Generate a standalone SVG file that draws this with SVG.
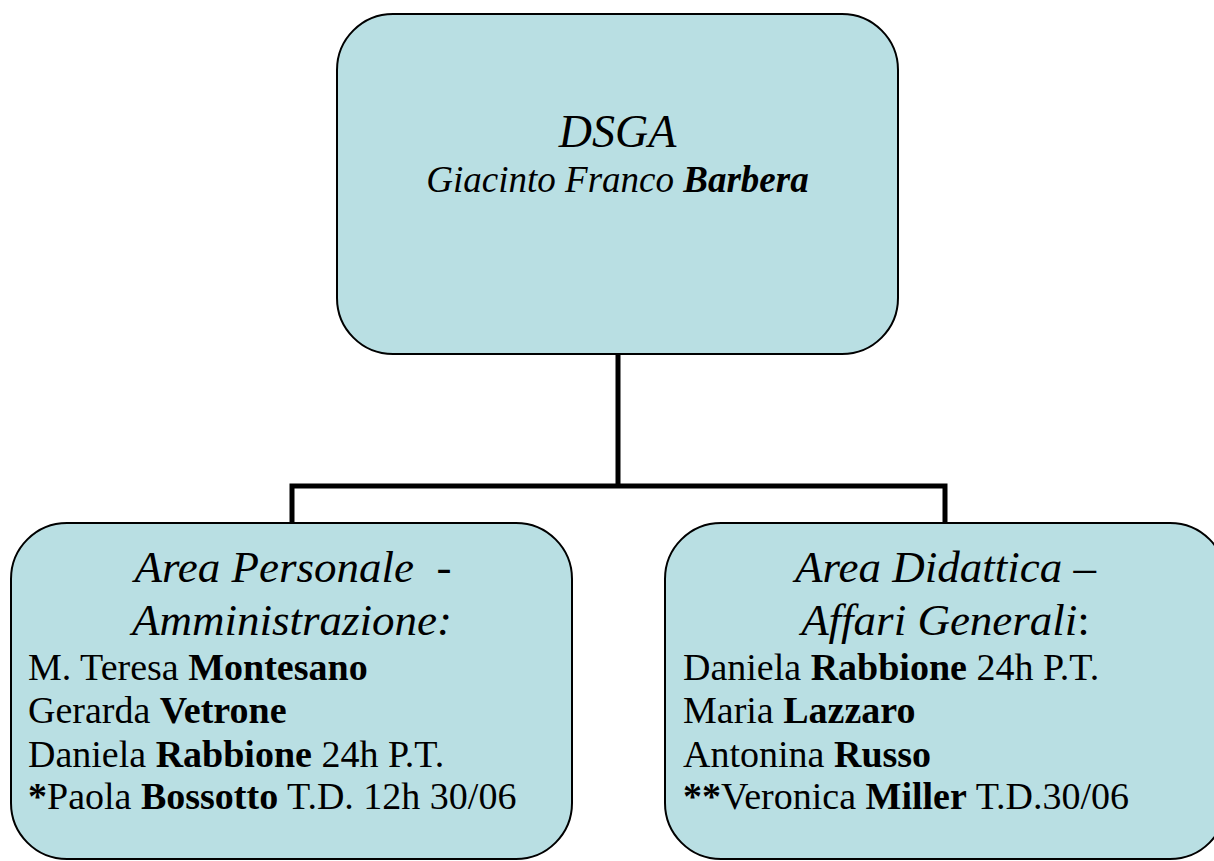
<svg xmlns="http://www.w3.org/2000/svg" width="1214" height="861" viewBox="0 0 1214 861">
<style>
.box{fill:#B9DFE3;stroke:#000;stroke-width:2}
.conn{fill:none;stroke:#000;stroke-width:5;stroke-linejoin:miter}
text{font-family:"Liberation Serif","Times New Roman",serif;fill:#000}
.it{font-style:italic}
.b{font-weight:bold}
.head{font-size:45px;font-style:italic;text-anchor:middle;white-space:pre}
.body{font-size:38px}
</style>
<rect width="1214" height="861" fill="#fff"/>
<g id="connectors">
<path class="conn" d="M618,354 V486"/>
<path class="conn" d="M292,523 V486 H945 V523"/>
</g>
<g id="dsga">
<rect class="box" x="337" y="14" width="561" height="340" rx="56" ry="56"/>
<text x="617.5" y="147" font-size="46" class="it" text-anchor="middle">DSGA</text>
<text x="617.5" y="192" font-size="37" class="it" text-anchor="middle">Giacinto Franco <tspan class="b">Barbera</tspan></text>
</g>
<g id="area-personale">
<rect class="box" x="11" y="523" width="561" height="336" rx="56" ry="56"/>
<text class="head" x="293" y="582">Area Personale  -</text>
<text class="head" x="292" y="635">Amministrazione:</text>
<text class="body" x="28" y="680">M. Teresa <tspan class="b">Montesano</tspan></text>
<text class="body" x="28" y="723">Gerarda <tspan class="b">Vetrone</tspan></text>
<text class="body" x="28" y="767">Daniela <tspan class="b">Rabbione</tspan> 24h P.T.</text>
<text class="body" x="28" y="809"><tspan class="b">*</tspan>Paola <tspan class="b">Bossotto</tspan> T.D. 12h 30/06</text>
</g>
<g id="area-didattica">
<rect class="box" x="665" y="523" width="561" height="336" rx="56" ry="56"/>
<text class="head" x="945.5" y="582">Area Didattica –</text>
<text class="head" x="945.5" y="635">Affari Generali<tspan font-style="normal">:</tspan></text>
<text class="body" x="683" y="680">Daniela <tspan class="b">Rabbione</tspan> 24h P.T.</text>
<text class="body" x="683" y="723">Maria <tspan class="b">Lazzaro</tspan></text>
<text class="body" x="683" y="767">Antonina <tspan class="b">Russo</tspan></text>
<text class="body" x="683" y="809"><tspan class="b">**</tspan>Veronica <tspan class="b">Miller</tspan> T.D.30/06</text>
</g>
</svg>
